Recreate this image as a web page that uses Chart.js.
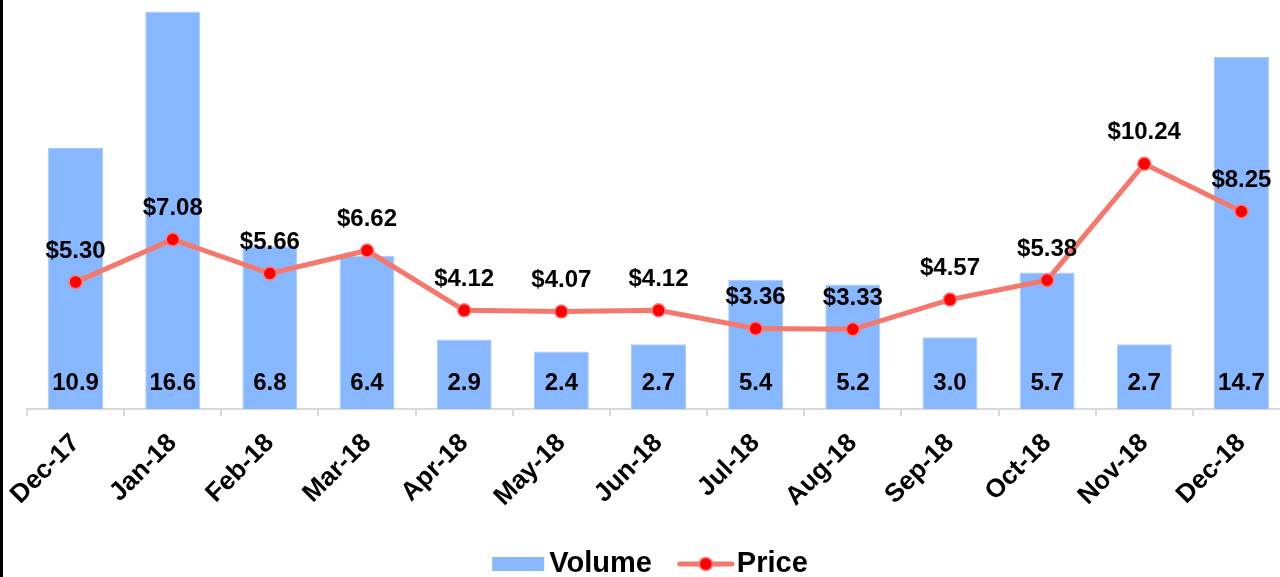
<!DOCTYPE html>
<html>
<head>
<meta charset="utf-8">
<title>Volume and Price</title>
<script src="https://cdn.jsdelivr.net/npm/chart.js@4.4.0/dist/chart.umd.min.js"></script>
<style>
  html, body { margin: 0; padding: 0; background: #fff; overflow: hidden; }
  #wrap { position: relative; width: 1300px; height: 577px; }
  #edge { position: absolute; left: 0; top: 0; width: 3px; height: 577px; background: #000; z-index: 2; }
</style>
</head>
<body>
<div id="wrap"><div id="edge"></div><canvas id="chart"></canvas></div>
<script>
// chart data
const months = ['Dec-17', 'Jan-18', 'Feb-18', 'Mar-18', 'Apr-18', 'May-18', 'Jun-18',
                'Jul-18', 'Aug-18', 'Sep-18', 'Oct-18', 'Nov-18', 'Dec-18'];
const volume = [10.9, 16.6, 6.8, 6.4, 2.9, 2.4, 2.7, 5.4, 5.2, 3.0, 5.7, 2.7, 14.7];
const price = [5.30, 7.08, 5.66, 6.62, 4.12, 4.07, 4.12, 3.36, 3.33, 4.57, 5.38, 10.24, 8.25];
const seriesNames = ['Volume', 'Price'];

const FONT = '"Liberation Sans", Arial, sans-serif';
const barColor = '#87b7fe';
const lineColor = '#f4786c';
const dotColor = '#ff0000';

// numbers on bars and above the price points
const valueLabels = {
  id: 'valueLabels',
  afterDatasetsDraw(chart) {
    const ctx = chart.ctx;
    ctx.save();
    ctx.font = 'bold 24px ' + FONT;
    ctx.fillStyle = '#000';
    ctx.textAlign = 'center';
    ctx.textBaseline = 'middle';
    chart.getDatasetMeta(0).data.forEach((bar, i) => {
      ctx.fillText(volume[i].toFixed(1), bar.x, bar.base - 26);
    });
    chart.getDatasetMeta(1).data.forEach((pt, i) => {
      ctx.fillText('$' + price[i].toFixed(2), pt.x, pt.y - 31);
    });
    ctx.restore();
  }
};

// legend: bar swatch, line with dot
const bottomLegend = {
  id: 'bottomLegend',
  afterDraw(chart) {
    const ctx = chart.ctx;
    ctx.save();
    ctx.font = 'bold 29px ' + FONT;
    const swatch = 52, gap = 5, between = 28;
    const w0 = ctx.measureText(seriesNames[0]).width;
    const w1 = ctx.measureText(seriesNames[1]).width;
    const total = swatch + gap + w0 + between + swatch + gap + w1;
    let x = chart.width / 2 - total / 2;
    const y = chart.height - 13;

    ctx.fillStyle = barColor;
    ctx.fillRect(x, y - 7, swatch, 14);
    x += swatch + gap;
    ctx.fillStyle = '#000';
    ctx.textBaseline = 'middle';
    ctx.fillText(seriesNames[0], x, y);
    x += w0 + between;

    ctx.strokeStyle = lineColor;
    ctx.lineWidth = 5;
    ctx.lineCap = 'round';
    ctx.beginPath();
    ctx.moveTo(x, y);
    ctx.lineTo(x + swatch, y);
    ctx.stroke();
    ctx.beginPath();
    ctx.arc(x + swatch / 2, y, 6.5, 0, Math.PI * 2);
    ctx.fillStyle = dotColor;
    ctx.fill();
    ctx.lineWidth = 1.5;
    ctx.strokeStyle = '#f77';
    ctx.stroke();
    x += swatch + gap;
    ctx.fillStyle = '#000';
    ctx.fillText(seriesNames[1], x, y);
    ctx.restore();
  }
};

new Chart(document.getElementById('chart'), {
  data: {
    labels: months,
    datasets: [
      {
        type: 'bar',
        label: seriesNames[0],
        data: volume,
        backgroundColor: barColor,
        borderColor: '#a9cbff',
        borderWidth: 1,
        categoryPercentage: 1,
        barPercentage: 0.566,
        order: 2
      },
      {
        type: 'line',
        label: seriesNames[1],
        data: price,
        borderColor: lineColor,
        borderWidth: 5,
        pointRadius: 6.5,
        pointBackgroundColor: dotColor,
        pointBorderColor: '#f77',
        pointBorderWidth: 1.5,
        tension: 0,
        order: 1
      }
    ]
  },
  options: {
    responsive: true,
    maintainAspectRatio: false,
    animation: false,
    layout: { padding: { left: 27, right: 10, top: 0, bottom: 68 } },
    plugins: {
      legend: { display: false },
      tooltip: { enabled: false }
    },
    scales: {
      x: {
        offset: true,
        grid: { offset: true, drawOnChartArea: false, color: '#d9d9d9', lineWidth: 2, tickLength: 7 },
        border: { color: '#d9d9d9', width: 2 },
        ticks: {
          color: '#000',
          font: { family: FONT, size: 26, weight: 'bold' },
          minRotation: 45,
          maxRotation: 45,
          autoSkip: false,
          padding: 12
        },
        afterFit(scale) { scale.height = 100; }
      },
      y: { display: false, min: 0, max: 16.75 }
    }
  },
  plugins: [valueLabels, bottomLegend]
});
</script>
</body>
</html>
